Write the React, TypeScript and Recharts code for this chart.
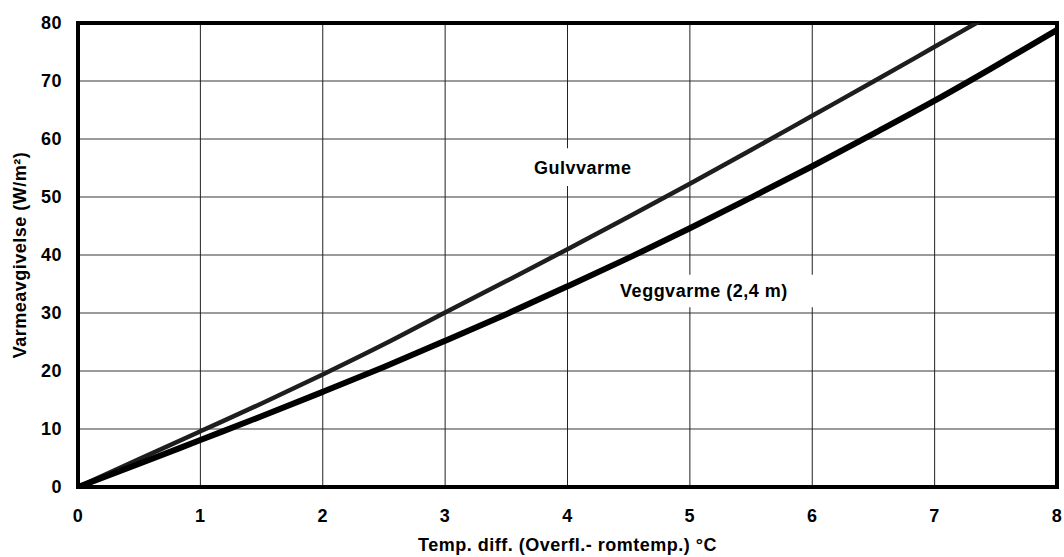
import React from "react";
import {
  LineChart,
  Line,
  XAxis,
  YAxis,
  CartesianGrid,
  ReferenceArea,
} from "recharts";

// temperaturdifferanse (°C)
const tempDiff = [0, 0.5, 1, 1.5, 2, 2.5, 3, 3.5, 4, 4.5, 5, 5.5, 6, 6.5, 7, 7.45, 8];
// Gulvvarme (W/m²) – går ut over toppen rundt 7,45
const gulvvarme = [0, 4.8, 9.6, 14.4, 19.4, 24.6, 30.1, 35.5, 41.0, 46.6, 52.3, 58.1, 64.0, 69.9, 75.9, 81.3, null];
// Veggvarme 2,4 m (W/m²)
const veggvarme = [0, 4.0, 8.1, 12.2, 16.4, 20.7, 25.2, 29.8, 34.6, 39.5, 44.6, 49.9, 55.3, 60.9, 66.6, 72.0, 78.8];

const xTicks = [0, 1, 2, 3, 4, 5, 6, 7, 8];
const yTicks = [0, 10, 20, 30, 40, 50, 60, 70, 80];
const xMinorTicks = [0.5, 1.5, 2.5, 3.5, 4.5, 5.5, 6.5, 7.5];
const yMinorTicks = [5, 15, 25, 35, 45, 55, 65, 75];

// etiketter med hvit bakgrunn
const annotations = [
  { text: "Gulvvarme", x1: 3.65, x2: 4.6, y1: 51.9, y2: 58.4, dx: 0 },
  { text: "Veggvarme (2,4 m)", x1: 4.31, x2: 6.05, y1: 31.0, y2: 36.6, dx: -8 },
];

const FONT = "'Liberation Sans', Arial, sans-serif";

const data = tempDiff.map((t, i) => ({
  t,
  gulv: gulvvarme[i],
  vegg: veggvarme[i],
}));

const tickStyle = {
  fontSize: 18,
  fontWeight: 700,
  fill: "#000",
  fontFamily: FONT,
  letterSpacing: "0.5px",
};

function YTitle({ viewBox }: any) {
  const cy = viewBox.y + viewBox.height / 2;
  const cx = 20;
  return (
    <text
      x={cx}
      y={cy}
      transform={`rotate(-90, ${cx}, ${cy})`}
      textAnchor="middle"
      dominantBaseline="central"
      style={tickStyle}
    >
      Varmeavgivelse (W/m²)
    </text>
  );
}

function XTitle({ viewBox }: any) {
  const cx = viewBox.x + viewBox.width / 2;
  return (
    <text x={cx} y={551} textAnchor="middle" style={tickStyle}>
      Temp. diff. (Overfl.- romtemp.) °C
    </text>
  );
}

export default function App() {
  return (
    <div style={{ position: "absolute", left: 0, top: 0, background: "#fff" }}>
      <LineChart
        width={1064}
        height={557}
        data={data}
        margin={{ top: 23, right: 7, left: 0, bottom: 0 }}
      >
        <CartesianGrid horizontal={true} vertical={false} stroke="#7a7a7a" strokeWidth={1.5} />
        <CartesianGrid horizontal={false} vertical={true} stroke="#222" strokeWidth={1} />
        <XAxis
          dataKey="t"
          type="number"
          domain={[0, 8]}
          ticks={xTicks}
          height={70}
          tickLine={false}
          axisLine={false}
          tickSize={0}
          tickMargin={22}
          tick={tickStyle}
          label={<XTitle />}
        />
        <YAxis
          type="number"
          domain={[0, 80]}
          ticks={yTicks}
          allowDataOverflow
          width={78}
          tickLine={false}
          axisLine={false}
          tickSize={0}
          tickMargin={16}
          tick={tickStyle}
          label={<YTitle />}
        />
        <XAxis
          xAxisId="minor"
          type="number"
          domain={[0, 8]}
          ticks={xMinorTicks}
          mirror
          height={0}
          axisLine={false}
          tickSize={5}
          tickLine={{ stroke: "#000", strokeWidth: 1 }}
          tickFormatter={() => ""}
        />
        <YAxis
          yAxisId="minor"
          type="number"
          domain={[0, 80]}
          ticks={yMinorTicks}
          mirror
          width={0}
          axisLine={false}
          tickSize={5}
          tickLine={{ stroke: "#000", strokeWidth: 1 }}
          tickFormatter={() => ""}
        />
        {annotations.map((a) => (
          <ReferenceArea
            key={a.text}
            x1={a.x1}
            x2={a.x2}
            y1={a.y1}
            y2={a.y2}
            fill="#fff"
            fillOpacity={1}
            stroke="none"
            label={{
              value: a.text,
              position: "center",
              dx: a.dx,
              style: tickStyle,
            }}
          />
        ))}
        <Line
          dataKey="gulv"
          type="monotone"
          stroke="#1e1e1e"
          strokeWidth={4.5}
          dot={false}
          activeDot={false}
          connectNulls={false}
          isAnimationActive={false}
        />
        <Line
          dataKey="vegg"
          type="monotone"
          stroke="#000"
          strokeWidth={6}
          dot={false}
          activeDot={false}
          isAnimationActive={false}
        />
        <ReferenceArea
          x1={0}
          x2={8}
          y1={0}
          y2={80}
          fill="none"
          stroke="#000"
          strokeWidth={4}
        />
      </LineChart>
    </div>
  );
}
